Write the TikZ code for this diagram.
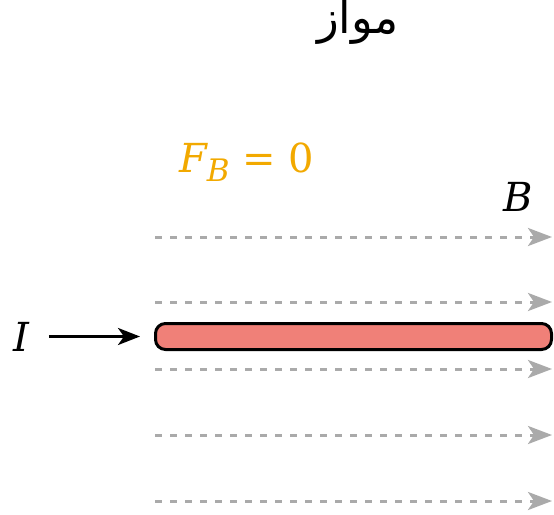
\documentclass[tikz,border=0pt]{standalone}
\usepackage{fontspec}
\setmainfont{DejaVu Serif}
\newfontfamily\arabicfont[Script=Arabic]{DejaVu Sans}
\TeXXeTstate=1
\usetikzlibrary{arrows.meta, positioning}
\definecolor{fieldgray}{HTML}{AAAAAA}
\definecolor{wirered}{HTML}{F08078}
\definecolor{forceorange}{HTML}{F2A900}

\begin{document}
\begin{tikzpicture}[
    x=1pt, y=-1pt,
    bigtext/.style={font=\fontsize{40}{44}\selectfont},
    fieldline/.style={draw=fieldgray, line width=3pt, dash pattern=on 7pt off 8pt, -{Stealth[length=24pt, width=18pt, inset=6pt]}},
    current/.style={line width=3pt, -{Stealth[length=22pt, width=17pt, inset=6pt]}},
    wirebox/.style={draw, line width=3pt, rectangle, rounded corners=10pt, fill=wirered, minimum width=396pt, minimum height=26pt, inner sep=0pt}
]
\useasboundingbox (0,0) rectangle (554,514);

\node[font=\fontsize{45}{48}\selectfont] (title) at (358,22) {\arabicfont\beginR مواز\endR};
\node[bigtext, text=forceorange] (force) at (247,162) {\textit{F}\kern-2pt\raisebox{-0.22em}{\fontsize{31}{31}\selectfont\textit{B}} = 0};
\node[bigtext] (blabel) at (518,197) {\textit{B}};

% field lines
\foreach \i/\y in {1/237, 2/302, 3/369, 4/435, 5/501} {
    \coordinate (fs\i) at (155,\y);
    \coordinate (fe\i) at (552,\y);
    \draw[fieldline] (fs\i) -- (fe\i);
}

\node[wirebox] (wire) at (353.5,336.5) {};
\node[bigtext] (ilabel) at (22,336.5) {\textit{I}};

\draw[current, shorten <=15pt, shorten >=14pt] (ilabel.east) -- (ilabel.east -| wire.west);

\end{tikzpicture}
\end{document}
